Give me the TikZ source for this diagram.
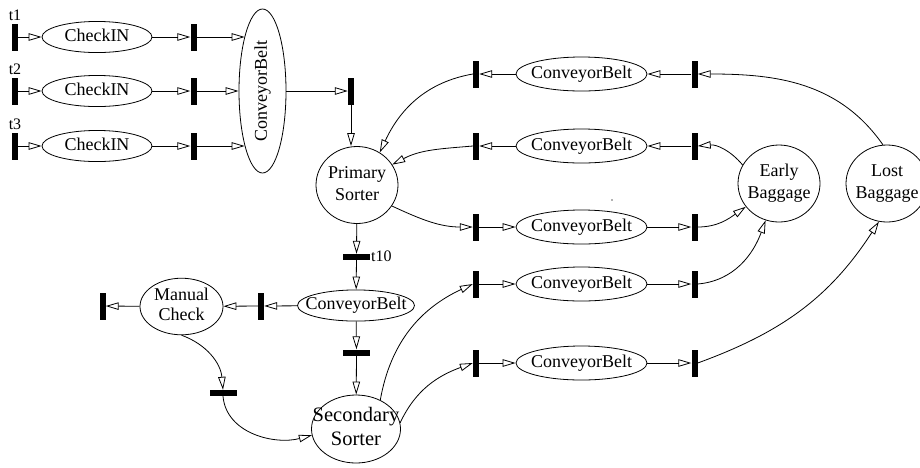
\documentclass[tikz,border=0pt]{standalone}
\usepackage{fontspec}
\setmainfont{Liberation Serif}
\usetikzlibrary{arrows.meta,shapes.geometric}
\newcommand\nodefont{\fontsize{18}{22}\selectfont}
\newcommand\bigfont{\fontsize{20.5}{24}\selectfont}
% text of zero width, so the ellipse keeps the size given by its style
\newcommand\inbox[1]{\makebox[0pt]{\begin{tabular}{@{}c@{}}#1\end{tabular}}}
\begin{document}
\begin{tikzpicture}[x=1pt,y=-1pt,
  every node/.style={inner sep=0pt},
  place/.style={draw, ellipse, line width=0.8pt, font=\nodefont},
  ck/.style={place, minimum width=110pt, minimum height=31pt},
  belt/.style={place, minimum width=131pt, minimum height=34pt},
  sorter/.style={place, minimum width=82pt, minimum height=77pt},
  tv/.style={fill=black, minimum width=6pt, minimum height=27pt},
  th/.style={fill=black, minimum width=27pt, minimum height=6pt},
  tlab/.style={font=\fontsize{16}{18}\selectfont},
  arc/.style={draw, line width=0.8pt, -{Triangle[open,length=13pt,width=7.5pt]}},
]
\clip (0,0) rectangle (920,467);
\fill[white] (0,0) rectangle (920,467);

% check-in lines
\foreach \i/\y in {1/37,2/91,3/146}{
  \node[tv] (T\i) at (15,\y) {};
  \node[tlab, anchor=base] (lt\i) at (15,\y-17) {t\i};
  \node[ck] (CK\i) at (97,\y) {\inbox{CheckIN}};
}
\node[tv] (T4) at (193.5,37) {};
\node[tv] (T5) at (193.5,91) {};
\node[tv] (T6) at (193.5,146) {};
\node[place, minimum width=47pt, minimum height=164pt] (CBV) at (262.5,91)
  {\makebox[0pt]{\rotatebox{90}{ConveyorBelt}}};
\node[tv] (T7) at (351,91) {};

% sorters and baggage places
\node[sorter] (PS) at (357,185) {\inbox{Primary\\Sorter}};
\node[sorter] (EB) at (779,183.5) {\inbox{Early\\Baggage}};
\node[sorter] (LB) at (887,183.5) {\inbox{Lost\\Baggage}};

% belts on the right
\foreach \i/\y in {1/74,2/146,3/227,4/284,5/363}{
  \node[tv] (L\i) at (476,\y) {};
  \node[belt] (CB\i) at (581.5,\y) {\inbox{ConveyorBelt}};
  \node[tv] (R\i) at (694.5,\y) {};
}

% lower part
\node[th] (T10) at (356.5,257) {};
\node[tlab, anchor=base west] (lt10) at (371,261) {t10};
\node[place, minimum width=117pt, minimum height=27pt] (CB6) at (356,305.5) {\inbox{ConveyorBelt}};
\node[tv] (T11) at (261,306) {};
\node[place, minimum width=83pt, minimum height=47pt] (MC) at (181.5,306.5)
  {\fontsize{18}{20}\selectfont\inbox{Manual\\Check}};
\node[tv] (T12) at (102.5,306) {};
\node[th] (T13) at (356.5,352.5) {};
\node[th] (T14) at (223,393) {};
\node[place, minimum width=89pt, minimum height=68pt, font=\bigfont] (SS) at (356,429)
  {\inbox{Secondary\\Sorter}};

% straight connections
\foreach \i in {1,2,3}{
  \draw[arc] (T\i) -- (CK\i);
}
\draw[arc] (CK1) -- (T4);
\draw[arc] (CK2) -- (T5);
\draw[arc] (CK3) -- (T6);
\draw[arc] (T4) -- (T4 -| CBV.108);
\draw[arc] (T5) -- (CBV);
\draw[arc] (T6) -- (T6 -| CBV.252);
\draw[arc] (CBV) -- (T7);
\draw[arc] (T7) -- (T7 |- PS.north);
\foreach \i in {1,2}{
  \draw[arc] (R\i) -- (CB\i);
  \draw[arc] (CB\i) -- (L\i);
}
\foreach \i in {3,4,5}{
  \draw[arc] (L\i) -- (CB\i);
  \draw[arc] (CB\i) -- (R\i);
}
\draw[arc] (PS) -- (T10);
\draw[arc] (T10) -- (CB6);
\draw[arc] (CB6) -- (T11);
\draw[arc] (T11) -- (MC);
\draw[arc] (MC) -- (T12);
\draw[arc] (CB6) -- (T13);
\draw[arc] (T13) -- (SS);

% curved connections
\draw[arc] (L1.west) to[out=190,in=65] (PS.55);
\draw[arc] (L2.west) to[out=185,in=28] (PS.30);
\draw[arc] (PS.-31) to[out=-25,in=180] (L3.west);
\draw[arc] (LB.96) to[out=125,in=0] (R1.east);
\draw[arc] (EB.153) to[out=130,in=5] (R2.east);
\draw[arc] (R3.east) to[out=0,in=215] (EB.215);
\draw[arc] (R4.east) to[out=5,in=250] (EB.250);
\draw[arc] (R5.east) to[out=20,in=237] (LB.258);
\draw[arc] (SS.50) to[out=80,in=205] (L4.west);
\draw[arc] (SS.8) to[out=65,in=200] (L5.west);
\draw[arc] (MC.south) to[out=-20,in=95] (T14.north);
\draw[arc] (T14.south) to[out=-85,in=195] (SS.188);

% stray speck
\fill[gray!60] (611,199) rectangle (612.5,200.5);
\end{tikzpicture}
\end{document}
